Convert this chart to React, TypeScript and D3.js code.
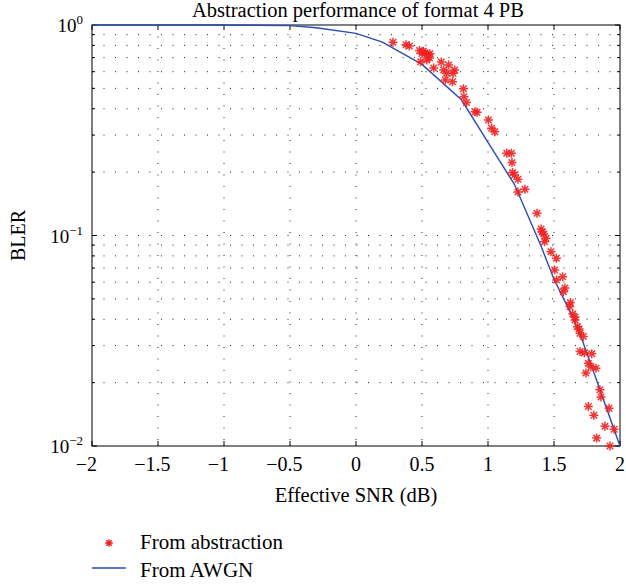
import React from "react";
import * as d3 from "d3";

const titleText = "Abstraction performance of format 4 PB";
const xLabel = "Effective SNR (dB)";
const yLabel = "BLER";
const xTicks = [-2, -1.5, -1, -0.5, 0, 0.5, 1, 1.5, 2];
const xTickLabels = ["\u22122", "\u22121.5", "\u22121", "\u22120.5", "0", "0.5", "1", "1.5", "2"];
const yMajor = [1, 0.1, 0.01];
const yMajorExp = ["0", "\u22121", "\u22122"];
const yMinor = [0.02, 0.03, 0.04, 0.05, 0.06, 0.07, 0.08, 0.09, 0.2, 0.3, 0.4, 0.5, 0.6, 0.7, 0.8, 0.9];

const awgnSnr = [-2, -1, -0.5, -0.3, 0, 0.2, 0.5, 0.8, 1.0, 1.2, 1.4, 1.5, 1.6, 1.7, 1.8, 1.9, 2.0];
const awgnBler = [1.0, 1.0, 0.993, 0.97, 0.912, 0.83, 0.65, 0.44, 0.277, 0.175, 0.0896, 0.062, 0.0463, 0.0337, 0.0225, 0.015, 0.01];

const absSnr = [
  0.28, 0.379, 0.404, 0.481, 0.5, 0.523, 0.548, 0.557, 0.536, 0.489, 0.589, 0.646, 0.702, 0.664, 0.687,
  0.748, 0.735, 0.677, 0.731, 0.814, 0.818, 0.837, 0.902, 0.917, 1.003, 1.028, 1.051, 1.142, 1.177, 1.182,
  1.186, 1.201, 1.227, 1.227, 1.28, 1.371, 1.402, 1.422, 1.428, 1.477, 1.518, 1.505, 1.52, 1.566, 1.583,
  1.571, 1.624, 1.642, 1.659, 1.678, 1.697, 1.722, 1.697, 1.73, 1.786, 1.76, 1.78, 1.818, 1.742, 1.848,
  1.856, 1.76, 1.917, 1.802, 1.886, 1.955, 1.823, 1.924, 0.51, 0.56, 1.41, 1.44, 1.62, 1.66, 1.69,
];
const absBler = [
  0.828, 0.806, 0.795, 0.757, 0.732, 0.739, 0.72, 0.697, 0.682, 0.669, 0.625, 0.667, 0.646, 0.611, 0.59,
  0.611, 0.59, 0.548, 0.538, 0.498, 0.456, 0.428, 0.387, 0.385, 0.354, 0.323, 0.311, 0.246, 0.246, 0.222,
  0.199, 0.194, 0.185, 0.161, 0.166, 0.1275, 0.1074, 0.1016, 0.0934, 0.0838, 0.0779, 0.0686, 0.0615, 0.0637, 0.0563,
  0.0541, 0.048, 0.0424, 0.0397, 0.0369, 0.0343, 0.0331, 0.0281, 0.0277, 0.0274, 0.0247, 0.0238, 0.0234, 0.0222, 0.0185,
  0.0171, 0.0154, 0.0151, 0.014, 0.0124, 0.012, 0.0109, 0.01, 0.75, 0.73, 0.104, 0.097, 0.046, 0.041, 0.036,
];

const legendLabels = ["From abstraction", "From AWGN"];

const W = 626;
const H = 586;
const L = 92, R = 620, T = 25, B = 446;
const FONT = "'Liberation Serif', 'Times New Roman', serif";
const RED = "#f02020";
const BLUE = "#2a4cb8";

function starPath(cx: number, cy: number, r: number) {
  const d = r * 0.72;
  return `M${cx - r},${cy}L${cx + r},${cy}M${cx},${cy - r}L${cx},${cy + r}` +
    `M${cx - d},${cy - d}L${cx + d},${cy + d}M${cx - d},${cy + d}L${cx + d},${cy - d}`;
}

export default function App() {
  const x = d3.scaleLinear().domain([-2, 2]).range([L, R]);
  const y = d3.scaleLog().domain([0.01, 1]).range([B, T]);
  const line = d3.line<number>().x((_, i) => x(awgnSnr[i])).y((_, i) => y(awgnBler[i]));
  const awgnPath = line(awgnSnr) || "";
  const dash = "1 10.5";
  const gridColor = "#222";

  return (
    <svg width={W} height={H} style={{ position: "absolute", left: 0, top: 0, background: "#fff" }}>
      <rect x={0} y={0} width={W} height={H} fill="#fff" />
      {/* grid */}
      {xTicks.slice(1, -1).map((v) => (
        <line key={"gx" + v} x1={x(v)} x2={x(v)} y1={T} y2={B} stroke={gridColor} strokeWidth={1} strokeDasharray={dash} />
      ))}
      {[...yMinor, 0.1].map((v) => (
        <line key={"gy" + v} x1={L} x2={R} y1={y(v)} y2={y(v)} stroke={gridColor} strokeWidth={1} strokeDasharray={dash} />
      ))}
      {/* ticks */}
      {xTicks.map((v) => (
        <g key={"tx" + v}>
          <line x1={x(v)} x2={x(v)} y1={B} y2={B - 5} stroke="#000" />
          <line x1={x(v)} x2={x(v)} y1={T} y2={T + 5} stroke="#000" />
        </g>
      ))}
      {yMajor.map((v) => (
        <g key={"tyM" + v}>
          <line x1={L} x2={L + 5} y1={y(v)} y2={y(v)} stroke="#000" />
          <line x1={R} x2={R - 5} y1={y(v)} y2={y(v)} stroke="#000" />
        </g>
      ))}
      {yMinor.map((v) => (
        <g key={"tym" + v}>
          <line x1={L} x2={L + 3} y1={y(v)} y2={y(v)} stroke="#000" />
          <line x1={R} x2={R - 3} y1={y(v)} y2={y(v)} stroke="#000" />
        </g>
      ))}
      {/* frame */}
      <rect x={L} y={T} width={R - L} height={B - T} fill="none" stroke="#000" strokeWidth={1} />
      {/* AWGN curve */}
      <path d={awgnPath} fill="none" stroke={BLUE} strokeWidth={1.4} />
      {/* abstraction points */}
      {absSnr.map((s, i) => (
        <path key={"p" + i} d={starPath(x(s), y(absBler[i]), 4.5)} stroke={RED} strokeWidth={1.5} fill="none" opacity={0.9} />
      ))}
      {/* tick labels */}
      {xTicks.map((v, i) => (
        <text key={"lx" + v} x={x(v) - (v < 0 ? 5.6 : 0)} y={471} textAnchor="middle" fontFamily={FONT} fontSize={20} fill="#000">
          {xTickLabels[i]}
        </text>
      ))}
      {yMajor.map((v, i) => (
        <text key={"ly" + v} x={83} y={y(v) + 7} textAnchor="end" fontFamily={FONT} fontSize={19} fill="#000">
          10<tspan dy={-8} fontSize={13}>{yMajorExp[i]}</tspan>
        </text>
      ))}
      {/* titles */}
      <text x={358} y={17} textAnchor="middle" fontFamily={FONT} fontSize={20.5} fill="#000">{titleText}</text>
      <text x={(L + R) / 2} y={502} textAnchor="middle" fontFamily={FONT} fontSize={20.5} fill="#000">{xLabel}</text>
      <text transform={`translate(25,${(T + B) / 2}) rotate(-90)`} textAnchor="middle" fontFamily={FONT} fontSize={20} fill="#000">{yLabel}</text>
      {/* legend */}
      <path d={starPath(109, 543, 3.8)} stroke={RED} strokeWidth={1.4} fill="none" />
      <text x={140} y={549} fontFamily={FONT} fontSize={21} fill="#000">{legendLabels[0]}</text>
      <line x1={92} x2={126} y1={568} y2={568} stroke={BLUE} strokeWidth={1.4} />
      <text x={140} y={577} fontFamily={FONT} fontSize={21} fill="#000">{legendLabels[1]}</text>
    </svg>
  );
}
